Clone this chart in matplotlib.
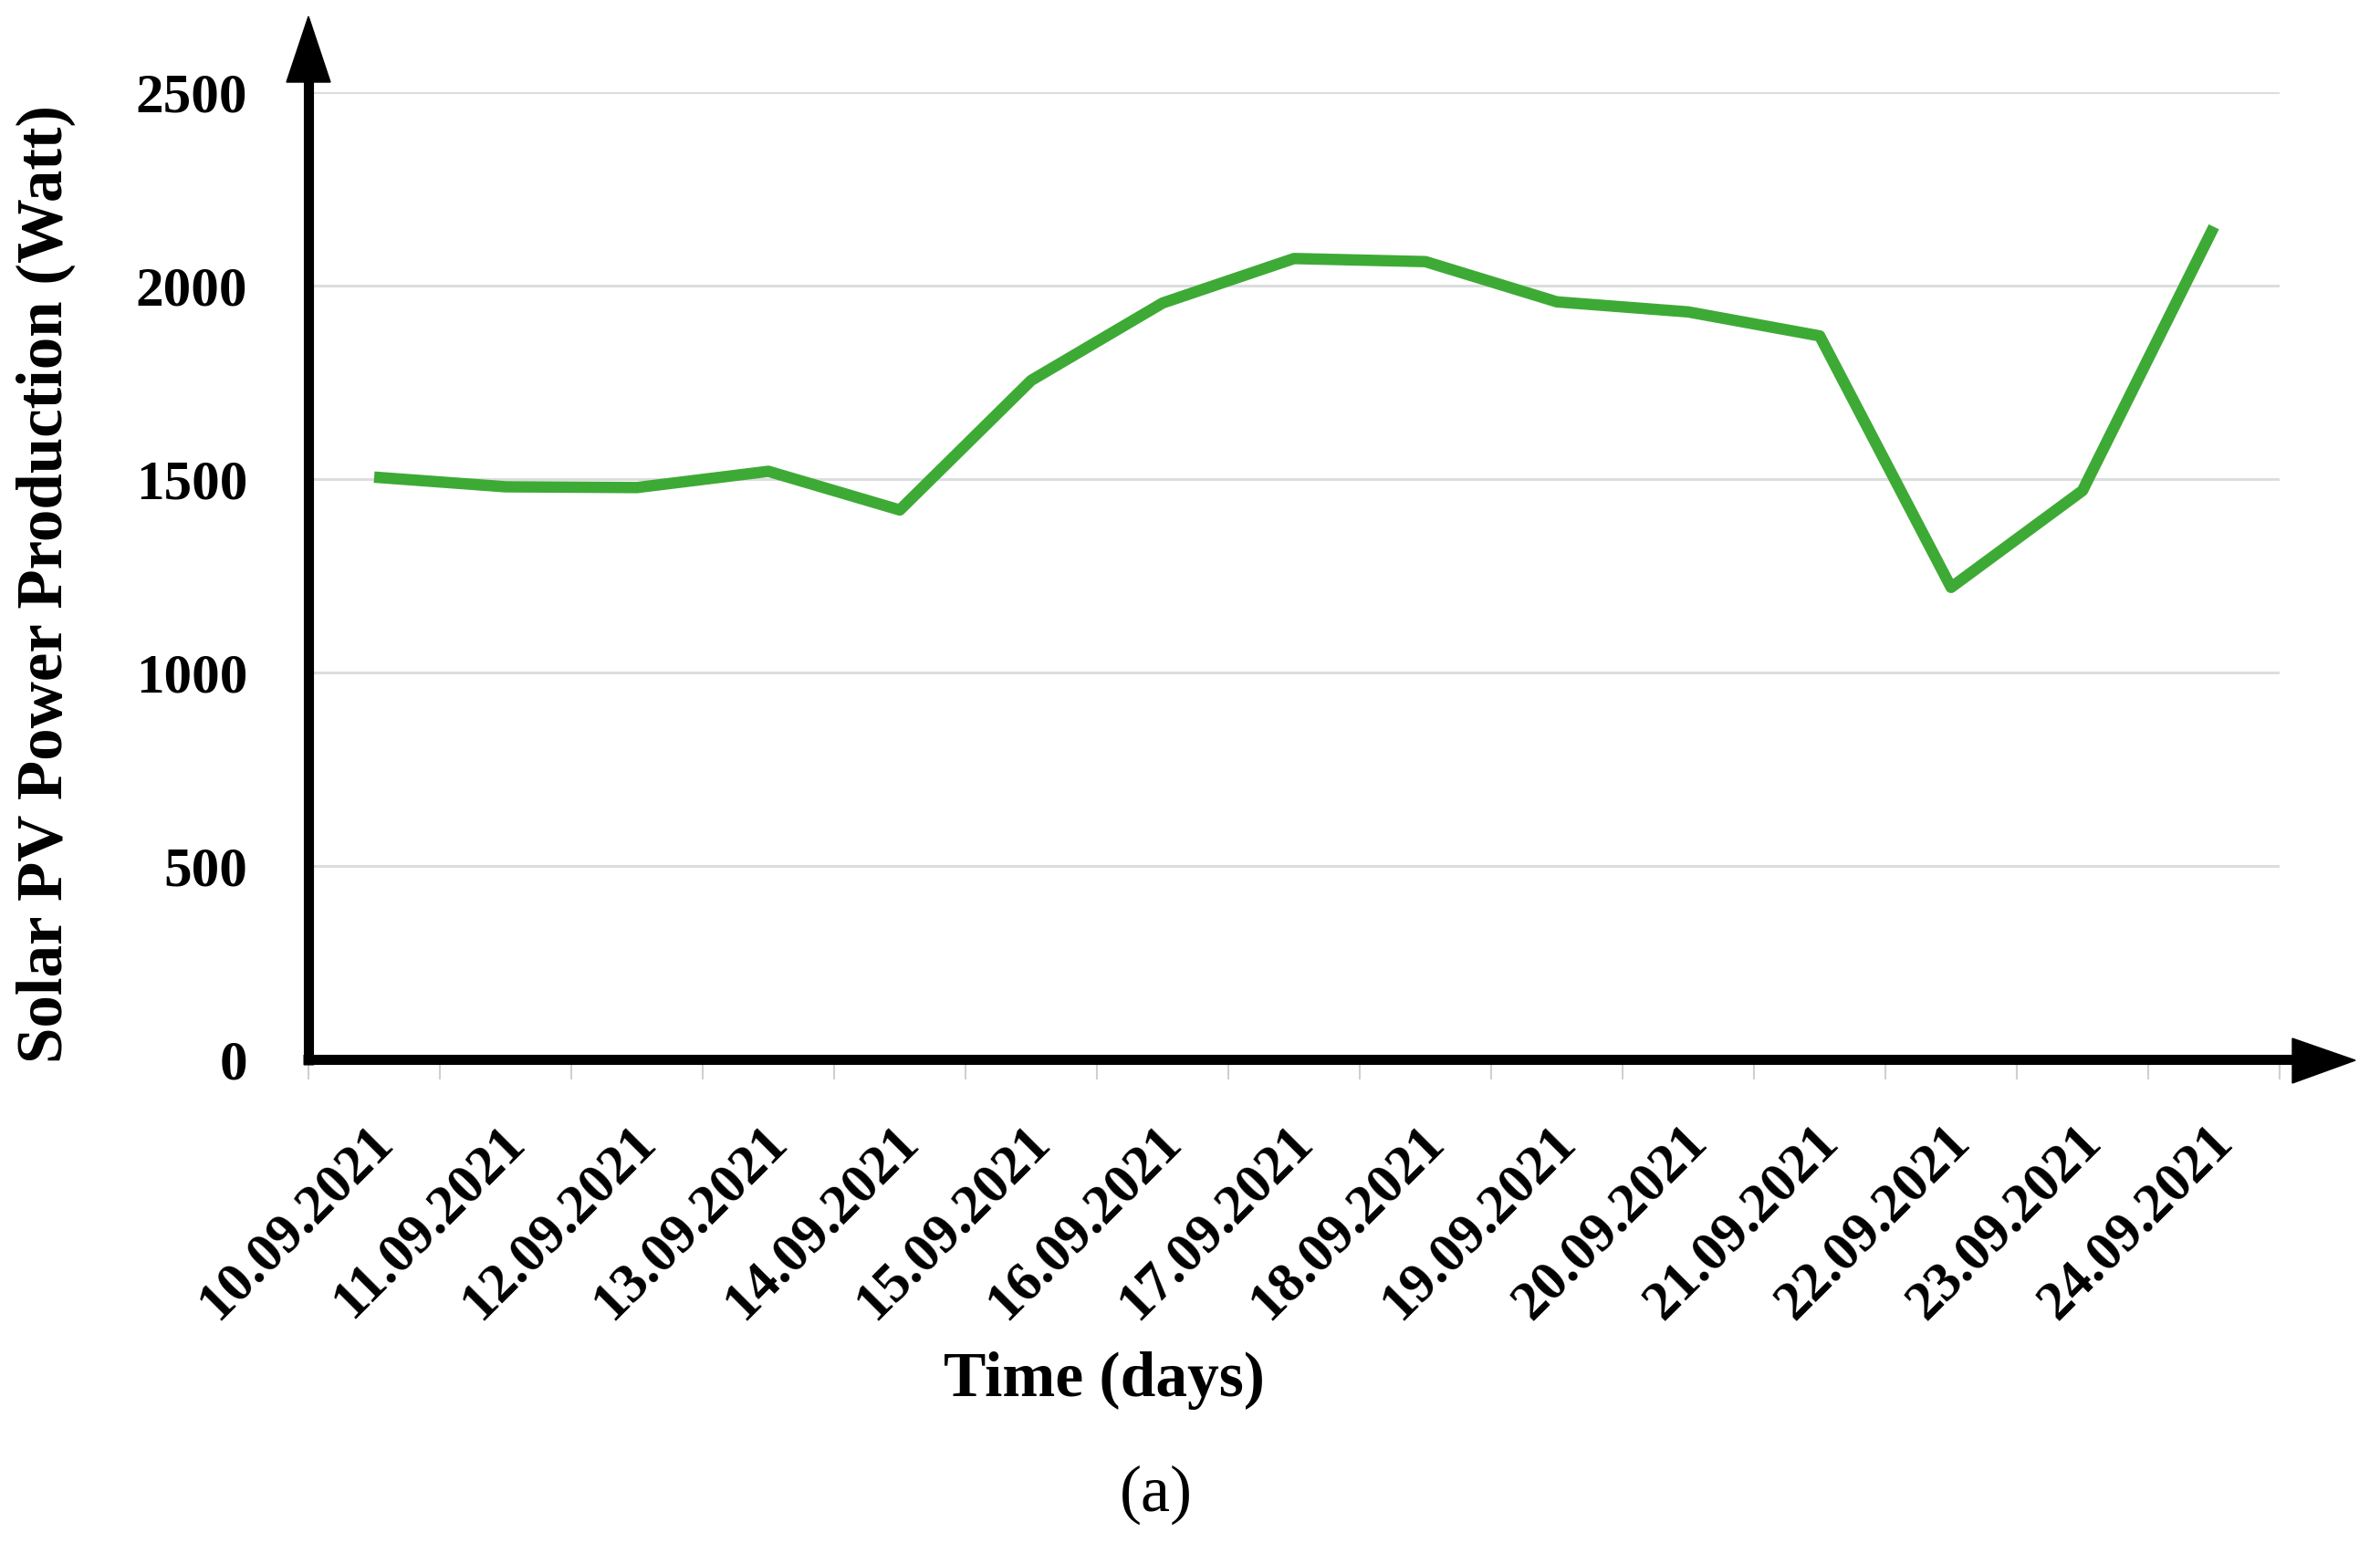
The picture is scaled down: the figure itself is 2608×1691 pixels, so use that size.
import matplotlib
matplotlib.use("Agg")
import matplotlib.pyplot as plt
from matplotlib.patches import Polygon
from matplotlib.lines import Line2D
from matplotlib.transforms import ScaledTranslation
import numpy as np

dates = ["10.09.2021", "11.09.2021", "12.09.2021", "13.09.2021", "14.09.2021",
         "15.09.2021", "16.09.2021", "17.09.2021", "18.09.2021", "19.09.2021",
         "20.09.2021", "21.09.2021", "22.09.2021", "23.09.2021", "24.09.2021"]
power = [1505, 1480, 1478, 1520, 1420, 1755, 1955, 2070, 2062, 1958,
         1932, 1870, 1220, 1470, 2152]
yticks = [0, 500, 1000, 1500, 2000, 2500]

W, H = 2608, 1691
DPI = 100
plt.rcParams['font.family'] = ['Liberation Serif', 'DejaVu Serif']

fig = plt.figure(figsize=(W / DPI, H / DPI), dpi=DPI)
fig.patch.set_facecolor('white')

def fx(x):
    return x / W

def fy(y):
    return 1 - y / H

ax_left, ax_right, ax_top, ax_bottom = 338, 2498, 101, 1161
ax = fig.add_axes([fx(ax_left), fy(ax_bottom), (ax_right - ax_left) / W, (ax_bottom - ax_top) / H])
ax.set_facecolor('white')

x = np.arange(len(dates))
ax.set_xlim(-0.5, len(dates) - 0.5)
ax.set_ylim(0, 2500)

# gridlines
ax.set_yticks(yticks)
ax.yaxis.grid(True, color='#dcdde0', linewidth=2.2)
ax.set_axisbelow(True)
for s in ax.spines.values():
    s.set_visible(False)

ax.plot(x, power, color='#3EAA36', linewidth=9, solid_joinstyle='round',
        solid_capstyle='butt', zorder=3, clip_on=False)

# y tick labels
ax.set_yticklabels([str(v) for v in yticks], fontsize=44, fontweight='bold')
ax.tick_params(axis='y', length=0, pad=48)

# x ticks
ax.set_xticks(x)
ax.set_xticks(np.arange(-0.5, len(dates), 1.0), minor=True)
ax.tick_params(axis='x', which='major', length=0, pad=0)
ax.tick_params(axis='x', which='minor', length=16, width=1.5, color='#d0d0d0', direction='out')
labels = ax.set_xticklabels(dates, fontsize=44, fontweight='bold', rotation=45,
                            ha='right', va='top', rotation_mode='anchor')
offset = ScaledTranslation(-8 / DPI, -62 / DPI, fig.dpi_scale_trans)
for lab in labels:
    lab.set_transform(lab.get_transform() + offset)

# axis lines with arrows
fig.add_artist(Line2D([fx(ax_left - 6), fx(2515)], [fy(1161), fy(1161)],
                      transform=fig.transFigure, color='black', linewidth=8, solid_capstyle='butt'))
fig.add_artist(Line2D([fx(ax_left), fx(ax_left)], [fy(1167), fy(85)],
                      transform=fig.transFigure, color='black', linewidth=8, solid_capstyle='butt'))
fig.add_artist(Polygon([(fx(338), fy(18)), (fx(314), fy(90)), (fx(362), fy(90))],
                       closed=True, transform=fig.transFigure, color='black'))
fig.add_artist(Polygon([(fx(2581), fy(1162)), (fx(2512), fy(1138)), (fx(2512), fy(1187))],
                       closed=True, transform=fig.transFigure, color='black'))

# axis titles
fig.text(fx(50), fy(640), 'Solar PV Power Production (Watt)', rotation=90,
         ha='center', va='center', fontsize=51, fontweight='bold')
fig.text(fx(1210), fy(1513), 'Time (days)', ha='center', va='center',
         fontsize=50, fontweight='bold')
fig.text(fx(1267), fy(1638), '(a)', ha='center', va='center', fontsize=52)

fig.savefig('out.png', dpi=DPI, facecolor='white')
